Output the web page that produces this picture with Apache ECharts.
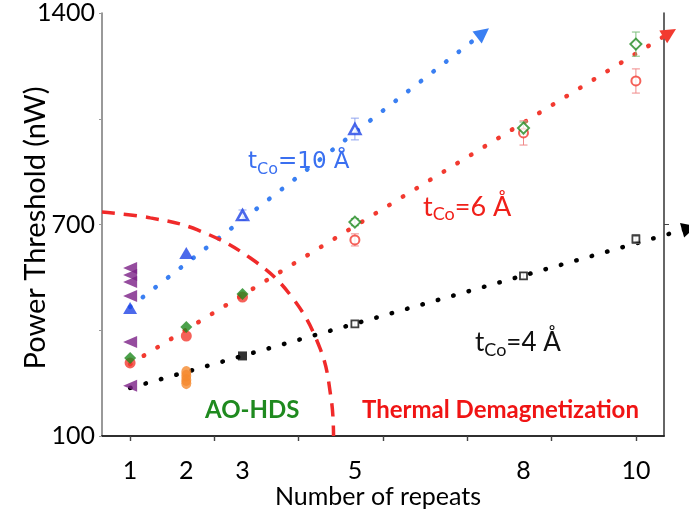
<!DOCTYPE html>
<html><head><meta charset="utf-8">
<script src="https://cdn.jsdelivr.net/npm/echarts@6/dist/echarts.min.js"></script>
<style>html,body{margin:0;padding:0;background:#fff}#c{width:689px;height:516px}</style>
</head><body><div id="c"></div>
<script>
// ---- axis ticks / labels ----
const xLabelValues = [1, 2, 3, 5, 8, 10];
const xTickValues = [1, 2.5, 4, 5.5, 7, 8.5, 10];
const yLabelValues = [0, 700, 1400];
const yLabelTexts = ['100', '700', '1400'];

// ---- data ----
const purpleX = [1, 1, 1, 1, 1, 1];
const purpleY = [556, 533, 510, 463, 311, 166];
const orangeX = [2, 2, 2, 2];
const orangeY = [212, 199, 185, 175];

const blueFilledX = [1, 2];
const blueFilledY = [424, 606];
const blueOpenX = [3, 5];
const blueOpenY = [731, 1016];
const blueOpenErr = [17, 36];

const redFilledX = [1, 2, 3];
const redFilledY = [242, 331, 460];
const redOpenX = [5, 8, 10];
const redOpenY = [649, 1003, 1175];
const redOpenErr = [20, 40, 40];

const greenFilledX = [1, 2, 3];
const greenFilledY = [258, 361, 470];
const greenOpenX = [5, 8, 10];
const greenOpenY = [708, 1019, 1297];
const greenOpenErr = [12, 20, 40];

const blackFilledX = [3];
const blackFilledY = [265];
const blackOpenX = [5, 8, 10];
const blackOpenY = [371, 530, 652];
const blackOpenErr = [8, 10, 15];

// guide lines (start, end)
const blueFitX = [1, 7.28];
const blueFitY = [427, 1334];
const redFitX = [1, 10.6];
const redFitY = [238, 1334];
const blackFitX = [1, 10.95];
const blackFitY = [159, 688];

// boundary curve
const boundaryX = [0.5, 1.36, 2.2, 3.14, 3.85, 4.38, 4.58, 4.62];
const boundaryY = [741, 722, 682, 589, 467, 290, 120, 0];

const zip = (xs, ys) => xs.map((x, i) => [x, ys[i]]);
const errData = (xs, ys, es) => xs.map((x, i) => [x, ys[i] - es[i], ys[i] + es[i]]);

function errRender(color) {
  return function (params, api) {
    const x = api.value(0), lo = api.value(1), hi = api.value(2);
    const p1 = api.coord([x, lo]), p2 = api.coord([x, hi]);
    const w = 4;
    const st = { stroke: color, lineWidth: 1 };
    return { type: 'group', children: [
      { type: 'line', shape: { x1: p1[0], y1: p1[1], x2: p2[0], y2: p2[1] }, style: st },
      { type: 'line', shape: { x1: p1[0] - w, y1: p1[1], x2: p1[0] + w, y2: p1[1] }, style: st },
      { type: 'line', shape: { x1: p2[0] - w, y1: p2[1], x2: p2[0] + w, y2: p2[1] }, style: st }
    ]};
  };
}

const BLUE = '#3a7ff2', BLUEM = '#1f44e6', RED = '#f23a30', GREEN = '#1f8a1f', PURPLE = '#7a1f86', ORANGE = '#f58a2e';

function fitLine(xs, ys, color) {
  return {
    type: 'lines', coordinateSystem: 'cartesian2d', clip: false, z: 1,
    symbol: ['none', 'triangle'], symbolSize: 15,
    lineStyle: { color: color, width: 4.5, type: [0.5, 15.5], cap: 'round', opacity: 1 },
    itemStyle: { color: color },
    data: [{ coords: zip(xs, ys) }]
  };
}

const chart = echarts.init(document.getElementById('c'));
chart.setOption({
  animation: false,
  backgroundColor: '#fff',
  grid: { left: 102, right: 25, top: 13, bottom: 80 },
  xAxis: [{
    type: 'value', min: 0.5, max: 10.5, position: 'bottom',
    axisLine: { lineStyle: { color: '#222', width: 1.5 } },
    axisTick: { customValues: xTickValues, length: 5, lineStyle: { color: '#222', width: 1.2 } },
    axisLabel: { customValues: xLabelValues, margin: 22, fontSize: 25, fontFamily: 'Lato', color: '#000' },
    splitLine: { show: false }
  }, {
    type: 'value', min: 0.5, max: 10.5, position: 'top',
    axisLine: { lineStyle: { color: '#222', width: 1.5 } },
    axisTick: { customValues: xTickValues, inside: true, length: 5, lineStyle: { color: '#444', width: 1.2 } },
    axisLabel: { show: false },
    splitLine: { show: false }
  }],
  yAxis: [{
    type: 'value', min: 0, max: 1400, interval: 350, position: 'left',
    axisLine: { show: true, lineStyle: { color: '#777', width: 1.5 } },
    axisTick: { show: true, length: 3, lineStyle: { color: '#999' } },
    axisLabel: {
      customValues: yLabelValues, margin: 7, fontSize: 25, fontFamily: 'Lato', color: '#000',
      formatter: v => yLabelTexts[yLabelValues.indexOf(v)]
    },
    splitLine: { show: false }
  }, {
    type: 'value', min: 0, max: 1400, position: 'right',
    axisLine: { show: true, lineStyle: { color: '#333', width: 1.5 } },
    axisTick: { show: true, customValues: [700], length: 5, inside: false, lineStyle: { color: '#444' } },
    axisLabel: { show: false },
    splitLine: { show: false }
  }],
  series: [
    fitLine(blueFitX, blueFitY, BLUE),
    fitLine(redFitX, redFitY, RED),
    fitLine(blackFitX, blackFitY, '#000'),
    {
      type: 'line', smooth: 0.4, symbol: 'none', z: 1, clip: false,
      lineStyle: { color: '#f02a2a', width: 3.5, type: [13, 9] },
      data: zip(boundaryX, boundaryY)
    },
    { type: 'custom', renderItem: errRender('#8fa3ef'), data: errData(blueOpenX, blueOpenY, blueOpenErr), z: 2 },
    { type: 'custom', renderItem: errRender('#f08a8a'), data: errData(redOpenX, redOpenY, redOpenErr), z: 2 },
    { type: 'custom', renderItem: errRender('#7cbf7c'), data: errData(greenOpenX, greenOpenY, greenOpenErr), z: 2 },
    { type: 'custom', renderItem: errRender('#999'), data: errData(blackOpenX, blackOpenY, blackOpenErr), z: 2 },
    { type: 'scatter', symbol: 'triangle', symbolRotate: 90, symbolSize: [12, 14], itemStyle: { color: PURPLE }, data: zip(purpleX, purpleY), z: 3 },
    { type: 'scatter', symbol: 'circle', symbolSize: [10, 12], itemStyle: { color: ORANGE }, data: zip(orangeX, orangeY), z: 3 },
    { type: 'scatter', symbol: 'triangle', symbolSize: [14, 12], itemStyle: { color: BLUEM }, data: zip(blueFilledX, blueFilledY), z: 3 },
    { type: 'scatter', symbol: 'triangle', symbolSize: [11, 10], itemStyle: { color: '#fff', borderColor: BLUEM, borderWidth: 2.5 }, data: zip(blueOpenX, blueOpenY), z: 3 },
    { type: 'scatter', symbol: 'circle', symbolSize: 11, itemStyle: { color: RED }, data: zip(redFilledX, redFilledY), z: 3 },
    { type: 'scatter', symbol: 'circle', symbolSize: 9, itemStyle: { color: '#fff', borderColor: RED, borderWidth: 2 }, data: zip(redOpenX, redOpenY), z: 3 },
    { type: 'scatter', symbol: 'diamond', symbolSize: 12, itemStyle: { color: GREEN }, data: zip(greenFilledX, greenFilledY), z: 4 },
    { type: 'scatter', symbol: 'diamond', symbolSize: 11, itemStyle: { color: '#fff', borderColor: GREEN, borderWidth: 2 }, data: zip(greenOpenX, greenOpenY), z: 4 },
    { type: 'scatter', symbol: 'rect', symbolSize: 9, itemStyle: { color: '#000' }, data: zip(blackFilledX, blackFilledY), z: 3 },
    { type: 'scatter', symbol: 'rect', symbolSize: 7, itemStyle: { color: '#fff', borderColor: '#111', borderWidth: 1.8 }, data: zip(blackOpenX, blackOpenY), z: 3 }
  ],
  graphic: [
    { type: 'text', x: 36, y: 228, rotation: Math.PI / 2,
      style: { text: 'Power Threshold (nW)', font: '29px Lato', fill: '#000', align: 'center', verticalAlign: 'middle' } },
    { type: 'text', x: 378, y: 497,
      style: { text: 'Number of repeats', font: '25px Lato', fill: '#000', align: 'center', verticalAlign: 'middle' } },
    { type: 'text', x: 248, y: 146,
      style: { text: '{m|t}{s|Co}{m|=10 Å}', fill: '#3a6ff0',
        rich: { m: { fontSize: 23, fontFamily: 'DejaVu Sans', lineHeight: 32, fill: '#3a6ff0' },
                s: { fontSize: 16, fontFamily: 'DejaVu Sans', verticalAlign: 'bottom', lineHeight: 16, fill: '#3a6ff0' } } } },
    { type: 'text', x: 423, y: 191,
      style: { text: '{m|t}{s|Co}{m|=6 Å}', fill: '#f0201a',
        rich: { m: { fontSize: 27, fontFamily: 'Lato', lineHeight: 32, fill: '#f0201a' },
                s: { fontSize: 18, fontFamily: 'Lato', verticalAlign: 'bottom', lineHeight: 17, fill: '#f0201a' } } } },
    { type: 'text', x: 475, y: 327,
      style: { text: '{m|t}{s|Co}{m|=4 Å}', fill: '#111',
        rich: { m: { fontSize: 26, fontFamily: 'Lato', lineHeight: 32, fill: '#111' },
                s: { fontSize: 18, fontFamily: 'Lato', verticalAlign: 'bottom', lineHeight: 17, fill: '#111' } } } },
    { type: 'text', x: 205, y: 410,
      style: { text: 'AO-HDS', font: 'bold 24px Lato', fill: '#1f8a1f', verticalAlign: 'middle' } },
    { type: 'text', x: 362, y: 410,
      style: { text: 'Thermal Demagnetization', font: 'bold 24px Lato', fill: '#f01414', verticalAlign: 'middle' } }
  ]
});
</script>
</body></html>
